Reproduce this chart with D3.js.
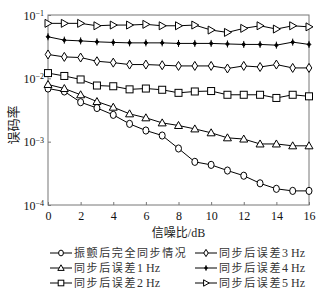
<!DOCTYPE html>
<html>
<head>
<meta charset="utf-8">
<script src="https://cdn.jsdelivr.net/npm/d3@7"></script>
<style>
  body { margin: 0; background: #fff; }
  text { font-family: "Liberation Serif", "Noto Sans CJK SC", serif; }
</style>
</head>
<body>
<div id="chart"></div>
<script>
// SNR points (dB)
const snr = d3.range(0, 17);

const perfectSync = [0.0069, 0.0062, 0.0042, 0.0034, 0.00265, 0.00191, 0.0015, 0.00125, 0.00078,
  0.00048, 0.00043, 0.00035, 0.00029, 0.00022, 0.00018, 0.000167, 0.000167];
const err1Hz = [0.0080, 0.0069, 0.0055, 0.0043, 0.0035, 0.00275, 0.00238, 0.00198, 0.0018,
  0.00159, 0.00138, 0.00115, 0.0011, 0.00092, 0.00092, 0.00086, 0.00086];
const err2Hz = [0.0121, 0.0109, 0.0096, 0.0077, 0.0075, 0.0067, 0.0069, 0.0066, 0.0059,
  0.0062, 0.0063, 0.0055, 0.0055, 0.0055, 0.0049, 0.0055, 0.0052];
const err3Hz = [0.0238, 0.0218, 0.0213, 0.0186, 0.0177, 0.0165, 0.0165, 0.0161, 0.0157,
  0.0157, 0.0157, 0.0143, 0.0157, 0.0151, 0.0165, 0.0146, 0.0146];
const err4Hz = [0.0453, 0.0401, 0.039, 0.0377, 0.0369, 0.0363, 0.0363, 0.0363, 0.0356,
  0.0356, 0.0356, 0.0349, 0.0343, 0.0343, 0.0334, 0.0373, 0.0343];
const err5Hz = [0.0738, 0.0738, 0.0738, 0.0676, 0.0694, 0.0694, 0.0712, 0.0676, 0.0676,
  0.0694, 0.0578, 0.0531, 0.0615, 0.0676, 0.060, 0.0676, 0.065];

const seriesNames = ["振颤后完全同步情况", "同步后误差1 Hz", "同步后误差2 Hz",
  "同步后误差3 Hz", "同步后误差4 Hz", "同步后误差5 Hz"];
const seriesValues = [perfectSync, err1Hz, err2Hz, err3Hz, err4Hz, err5Hz];
const markerTypes = ["circle", "triangle", "square", "diamond", "plus", "tright"];

const xTicks = [0, 2, 4, 6, 8, 10, 12, 14, 16];
const yTicks = [1e-4, 1e-3, 1e-2, 1e-1];
const xTitle = "信噪比/dB";
const yTitle = "误码率";

const W = 329, H = 297;
const margin = { top: 15, right: 20, bottom: 92, left: 48 };
const width = W - margin.left - margin.right;
const height = H - margin.top - margin.bottom;

const svg = d3.select("#chart").append("svg")
  .attr("width", W).attr("height", H);
const g = svg.append("g")
  .attr("transform", "translate(" + margin.left + "," + margin.top + ")");

const x = d3.scaleLinear().domain([0, 16]).range([0, width]);
const y = d3.scaleLog().domain([1e-4, 1e-1]).range([height, 0]);

// frame
g.append("rect")
  .attr("width", width).attr("height", height)
  .attr("fill", "none").attr("stroke", "#777").attr("stroke-width", 1);

// x axis
const xAxis = g.append("g")
  .attr("transform", "translate(0," + height + ")")
  .call(d3.axisBottom(x).tickValues(xTicks).tickSize(-3).tickPadding(6));
xAxis.select(".domain").remove();
xAxis.selectAll("line").attr("stroke", "#777");
xAxis.selectAll("text").attr("font-size", 12).attr("fill", "#111")
  .attr("font-family", "Liberation Serif");

// y axis
const yAxis = g.append("g")
  .call(d3.axisLeft(y).tickValues(yTicks).tickSize(-3).tickPadding(5).tickFormat(""));
yAxis.select(".domain").remove();
yAxis.selectAll("line").attr("stroke", "#777");
yAxis.selectAll(".tick").each(function (d) {
  const t = d3.select(this).append("text")
    .attr("x", -4).attr("dy", "0.35em")
    .attr("text-anchor", "end").attr("fill", "#111")
    .attr("font-family", "Liberation Serif").attr("font-size", 12);
  t.append("tspan").text("10");
  t.append("tspan").attr("dy", "-0.45em").attr("font-size", 8)
    .text("\u2212" + Math.round(-Math.log10(d)));
});

// titles
g.append("text")
  .attr("x", width / 2).attr("y", height + 32)
  .attr("text-anchor", "middle").attr("font-size", 12).attr("fill", "#222")
  .attr("font-family", "Noto Sans CJK SC")
  .text(xTitle);
g.append("text")
  .attr("transform", "translate(" + (13 - margin.left) + "," + (125 - margin.top) + ") rotate(-90)")
  .attr("text-anchor", "middle").attr("dy", "0.35em")
  .attr("font-size", 13).attr("fill", "#222")
  .attr("font-family", "Noto Sans CJK SC")
  .text(yTitle);

function drawMarker(sel, type, s) {
  s = s || 1;
  if (type === "circle") {
    sel.append("ellipse").attr("rx", 3 * s).attr("ry", 3.6 * s)
      .attr("fill", "#fff").attr("stroke", "#000");
  } else if (type === "triangle") {
    sel.append("path").attr("d", d3.line()([[0, -4 * s], [4 * s, 3 * s], [-4 * s, 3 * s]]) + "Z")
      .attr("fill", "#fff").attr("stroke", "#000");
  } else if (type === "square") {
    sel.append("rect").attr("x", -3.5 * s).attr("y", -3.5 * s)
      .attr("width", 7 * s).attr("height", 7 * s)
      .attr("fill", "#fff").attr("stroke", "#000");
  } else if (type === "diamond") {
    sel.append("path").attr("d", d3.line()([[0, -4.5 * s], [2.8 * s, 0], [0, 4.5 * s], [-2.8 * s, 0]]) + "Z")
      .attr("fill", "#fff").attr("stroke", "#000");
  } else if (type === "plus") {
    sel.append("path").attr("d", d3.line()([[0, -3.5 * s], [0, 3.5 * s]]))
      .attr("stroke", "#000").attr("stroke-width", 1);
    sel.append("path").attr("d", d3.line()([[0, -2 * s], [1.8 * s, 0], [0, 2 * s], [-1.8 * s, 0]]) + "Z")
      .attr("fill", "#000").attr("stroke", "#000");
  } else if (type === "tright") {
    sel.append("path").attr("d", d3.line()([[-3 * s, -4 * s], [4 * s, 0], [-3 * s, 4 * s]]) + "Z")
      .attr("fill", "#fff").attr("stroke", "#000");
  }
}

const line = d3.line()
  .x((d, i) => x(snr[i]))
  .y(d => y(d));

seriesValues.forEach((vals, k) => {
  g.append("path")
    .datum(vals)
    .attr("d", line)
    .attr("fill", "none").attr("stroke", "#000").attr("stroke-width", 1);
  g.selectAll(".m" + k)
    .data(vals)
    .enter().append("g")
    .attr("class", "m" + k)
    .attr("transform", (d, i) => "translate(" + x(snr[i]) + "," + y(d) + ")")
    .each(function () { drawMarker(d3.select(this), markerTypes[k]); });
});

// legend
const legendCols = [50, 195];
const legendRows = [253, 268, 283];
seriesNames.forEach((name, k) => {
  const col = Math.floor(k / 3), row = k % 3;
  const lg = svg.append("g")
    .attr("transform", "translate(" + legendCols[col] + "," + legendRows[row] + ")");
  lg.append("line").attr("x1", 0).attr("x2", 22)
    .attr("stroke", "#000").attr("stroke-width", 1);
  const mk = lg.append("g").attr("transform", "translate(11,0)");
  drawMarker(mk, markerTypes[k], 0.8);
  const t = lg.append("text").attr("x", 24).attr("dy", "0.35em")
    .attr("font-size", 11).attr("fill", "#333");
  const m = name.match(/^(.*?)(\d+ Hz)?$/);
  t.append("tspan").attr("font-family", "Noto Sans CJK SC")
    .attr("letter-spacing", 1.6).text(m[1]);
  if (m[2]) t.append("tspan").attr("font-family", "Liberation Serif")
    .attr("font-size", 12).text(m[2]);
});
</script>
</body>
</html>
